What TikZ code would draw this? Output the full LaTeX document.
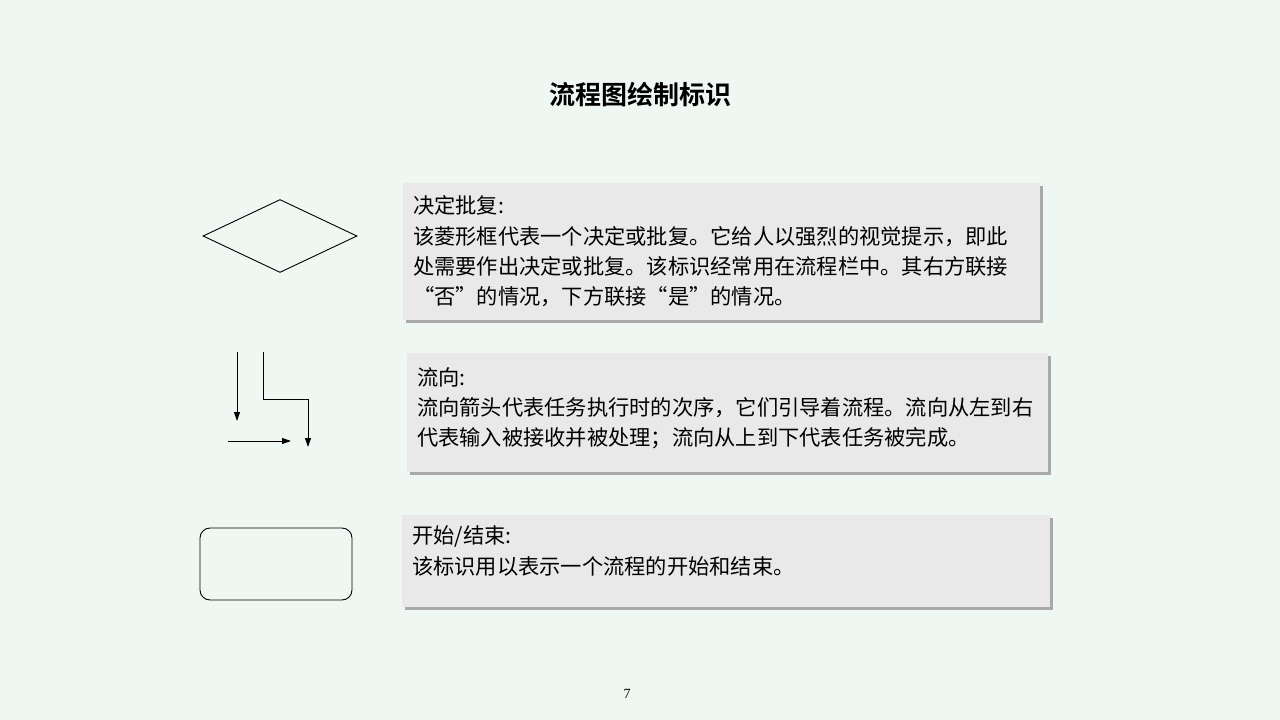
\documentclass[tikz,border=0pt]{standalone}
\usepackage{fontspec}
\setmainfont{Liberation Serif}
\newfontfamily\cjk{Noto Sans CJK SC}[BoldFont={Noto Sans CJK SC Bold}]
\usetikzlibrary{arrows.meta,shapes.geometric,shadows}
\definecolor{bgmint}{HTML}{EEF7F2}
\definecolor{boxgray}{HTML}{E9E9E9}
\definecolor{shadowgray}{HTML}{A9A9A9}

\begin{document}
\begin{tikzpicture}[x=1pt, y=-1pt,
    symbol/.style ={draw, line width=0.9pt, inner sep=0pt},
    flow/.style ={line width=0.9pt, -{Triangle[length=9pt,width=6pt]}},
    panel/.style ={fill=boxgray, anchor=north west, inner sep=0pt,
      drop shadow={shadow xshift=3pt, shadow yshift=-3pt, fill=shadowgray, opacity=1}},
    textline/.style ={anchor=base west, inner sep=0pt, font=\cjk\fontsize{21.25}{30}\selectfont}]
   \fill[bgmint] (0,0) rectangle (1280,720);

   \node[font=\cjk\bfseries\fontsize{26}{30}\selectfont] (title) at (640,95) {流程图绘制标识};

   % symbols on the left
   \node[symbol, diamond, minimum width=154pt, minimum height=73pt] (decision) at (280,236) {};
   \node[symbol, rectangle, rounded corners=10pt, minimum width=152pt, minimum height=72pt] (terminal) at (276,564) {};

   \coordinate (down1) at (237,352);
   \coordinate (down1end) at (237,421);
   \coordinate (down2) at (263,352);
   \coordinate (bend) at (308,399);
   \coordinate (down2end) at (308,447);
   \coordinate (right1) at (228,441);
   \coordinate (right1end) at (291,441);
   \draw[flow] (down1) -- (down1end);
   \draw[flow] (down2) |- (bend) -- (down2end);
   \draw[flow] (right1) -- (right1end);

   % text panels
   \node[panel, minimum width=637pt, minimum height=137pt] (P1) at (403,183) {};
   \node[panel, minimum width=641pt, minimum height=119pt] (P2) at (407,353) {};
   \node[panel, minimum width=648pt, minimum height=92pt] (P3) at (402,515) {};

   \node[textline] (P1a) at (413,213) {决定批复:};
   \node[textline] (P1b) at (413,244) {该菱形框代表一个决定或批复。它给人以强烈的视觉提示，即此};
   \node[textline] (P1c) at (413,274) {处需要作出决定或批复。该标识经常用在流程栏中。其右方联接};
   \node[textline] (P1d) at (413,304) {“否”的情况，下方联接“是”的情况。};

   \node[textline] (P2a) at (417,385) {流向:};
   \node[textline] (P2b) at (417,415) {流向箭头代表任务执行时的次序，它们引导着流程。流向从左到右};
   \node[textline] (P2c) at (417,445) {代表输入被接收并被处理；流向从上到下代表任务被完成。};

   \node[textline] (P3a) at (412,543) {开始/结束:};
   \node[textline] (P3b) at (412,574) {该标识用以表示一个流程的开始和结束。};

   \node[font=\fontsize{14}{16}\selectfont] (page) at (627,694) {7};
 \end{tikzpicture}
\end{document}
